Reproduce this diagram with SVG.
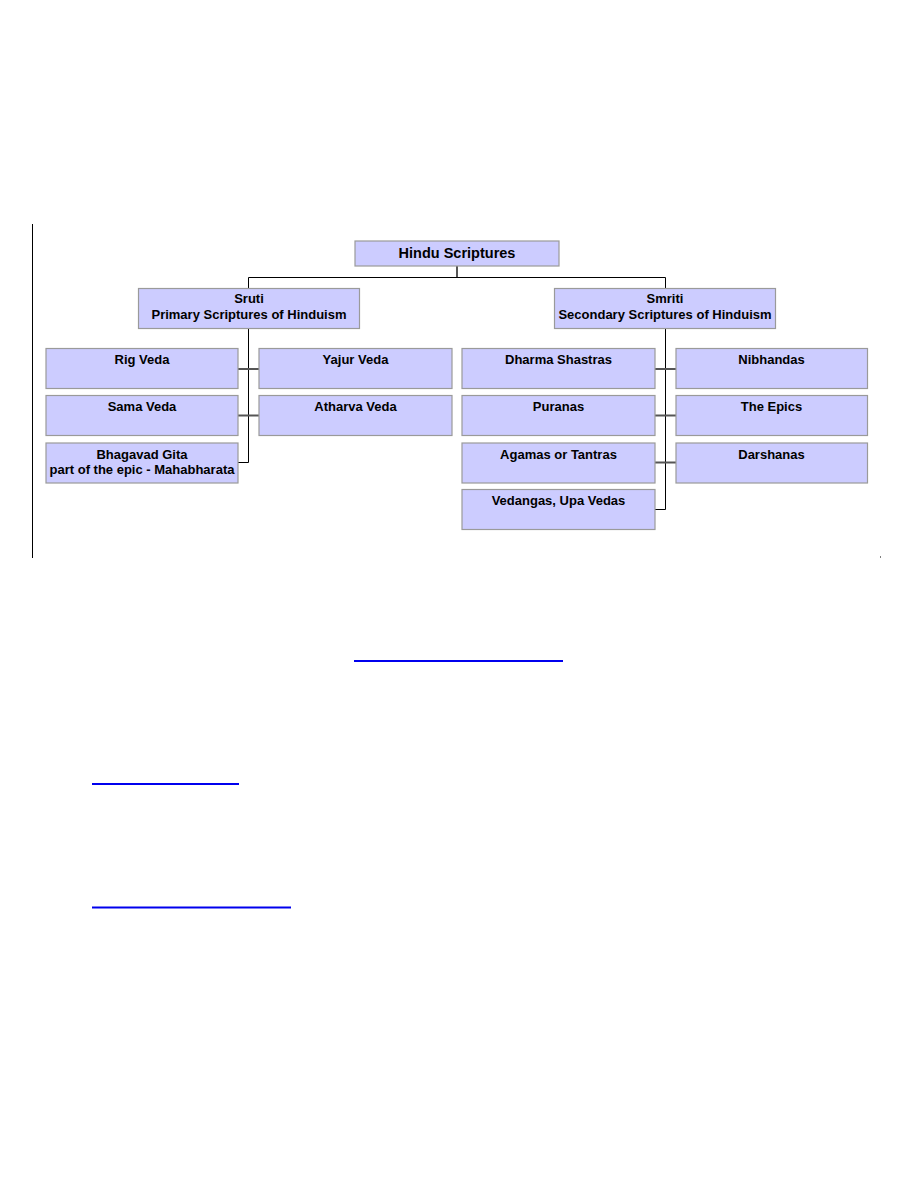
<svg xmlns="http://www.w3.org/2000/svg" width="918" height="1188" viewBox="0 0 918 1188">
<style>
.box{fill:#ccccff;stroke:#9a9a9a;stroke-width:1.2}
.t{font-family:"Liberation Sans",Arial,sans-serif;font-weight:bold;font-size:13px;fill:#000;text-anchor:middle}
.big{font-size:14.5px}
.k{stroke:#000;stroke-width:1;fill:none}
.g{stroke:#555;stroke-width:2;fill:none}
.link{stroke:#0000ee;stroke-width:2}
</style>
<rect x="0" y="0" width="918" height="1188" fill="#fff"/>
<line x1="32.5" y1="224" x2="32.5" y2="558" stroke="#000" stroke-width="1"/>
<rect x="880" y="556.5" width="1" height="1" fill="#000"/>
<g id="connectors">
<line class="g" x1="457" y1="266" x2="457" y2="277"/>
<polyline class="k" points="248.5,288 248.5,277.5 665.5,277.5 665.5,288"/>
<polyline class="k" points="248.5,328 248.5,462.5 238,462.5"/>
<line class="g" x1="238" y1="369" x2="259" y2="369"/>
<line class="g" x1="238" y1="415.5" x2="259" y2="415.5"/>
<polyline class="k" points="665.5,328 665.5,509.5 655,509.5"/>
<line class="g" x1="655" y1="369" x2="676" y2="369"/>
<line class="g" x1="655" y1="415.5" x2="676" y2="415.5"/>
<line class="g" x1="655" y1="462.5" x2="676" y2="462.5"/>
</g>
<g id="hindu"><rect class="box" x="355" y="241" width="204" height="25"/><text class="t big" x="457" y="258">Hindu Scriptures</text></g>
<g id="sruti"><rect class="box" x="138.5" y="288.5" width="221" height="40"/><text class="t" x="249" y="303">Sruti</text><text class="t" x="249" y="318.5">Primary Scriptures of Hinduism</text></g>
<g id="smriti"><rect class="box" x="554.5" y="288.5" width="221" height="40"/><text class="t" x="665" y="303">Smriti</text><text class="t" x="665" y="318.5">Secondary Scriptures of Hinduism</text></g>
<g id="rig"><rect class="box" x="46" y="348.5" width="192" height="40"/><text class="t" x="142" y="364">Rig Veda</text></g>
<g id="yajur"><rect class="box" x="259" y="348.5" width="193" height="40"/><text class="t" x="355.5" y="364">Yajur Veda</text></g>
<g id="sama"><rect class="box" x="46" y="395.5" width="192" height="40"/><text class="t" x="142" y="411">Sama Veda</text></g>
<g id="atharva"><rect class="box" x="259" y="395.5" width="193" height="40"/><text class="t" x="355.5" y="411">Atharva Veda</text></g>
<g id="gita"><rect class="box" x="46" y="443" width="192" height="40"/><text class="t" x="142" y="458.5">Bhagavad Gita</text><text class="t" x="142" y="473.5">part of the epic - Mahabharata</text></g>
<g id="dharma"><rect class="box" x="462" y="348.5" width="193" height="40"/><text class="t" x="558.5" y="364">Dharma Shastras</text></g>
<g id="nibhandas"><rect class="box" x="676" y="348.5" width="191.5" height="40"/><text class="t" x="771.5" y="364">Nibhandas</text></g>
<g id="puranas"><rect class="box" x="462" y="395.5" width="193" height="40"/><text class="t" x="558.5" y="411">Puranas</text></g>
<g id="epics"><rect class="box" x="676" y="395.5" width="191.5" height="40"/><text class="t" x="771.5" y="411">The Epics</text></g>
<g id="agamas"><rect class="box" x="462" y="443" width="193" height="40"/><text class="t" x="558.5" y="458.5">Agamas or Tantras</text></g>
<g id="darshanas"><rect class="box" x="676" y="443" width="191.5" height="40"/><text class="t" x="771.5" y="458.5">Darshanas</text></g>
<g id="vedangas"><rect class="box" x="462" y="489.5" width="193" height="40"/><text class="t" x="558.5" y="505">Vedangas, Upa Vedas</text></g>
<line class="link" x1="354" y1="661" x2="563" y2="661"/>
<line class="link" x1="92" y1="784" x2="239" y2="784"/>
<line class="link" x1="92" y1="907.5" x2="291" y2="907.5"/>
</svg>
